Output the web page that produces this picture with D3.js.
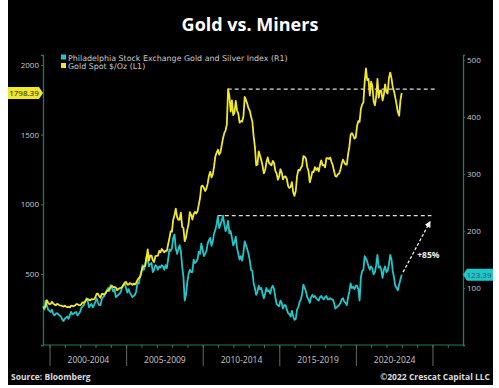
<!DOCTYPE html>
<html>
<head>
<meta charset="utf-8">
<script src="https://cdn.jsdelivr.net/npm/d3@7"></script>
<style>
  body { margin: 0; background: #fff; }
  svg { display: block; }
</style>
</head>
<body>
<div id="chart"></div>
<script>
// monthly values, first point = July 1999
var startYear = 1999, startMonth = 6;

var goldSpot = [
  256, 257, 265, 311, 293, 283,
  285, 300, 287, 280, 275, 285, 282, 274, 273, 270, 266, 272,
  266, 262, 263, 260, 272, 270, 268, 273, 283, 283, 276, 276,
  282, 296, 294, 302, 314, 321, 314, 310, 319, 317, 319, 333,
  357, 359, 340, 329, 356, 356, 351, 360, 379, 379, 389, 407,
  414, 405, 406, 404, 384, 392, 398, 400, 405, 420, 439, 442,
  424, 423, 434, 429, 422, 431, 424, 437, 456, 470, 476, 510,
  549, 555, 557, 610, 676, 596, 633, 632, 598, 585, 627, 629,
  631, 665, 655, 679, 667, 655, 665, 665, 712, 754, 806, 803,
  889, 922, 968, 909, 888, 889, 939, 839, 829, 735, 760, 816,
  858, 943, 924, 890, 928, 945, 934, 949, 996, 1043, 1127, 1134,
  1118, 1095, 1113, 1148, 1205, 1233, 1193, 1215, 1271, 1343, 1370, 1391,
  1356, 1372, 1424, 1473, 1510, 1528, 1572, 1826, 1780, 1665, 1745, 1640,
  1656, 1742, 1673, 1650, 1585, 1596, 1594, 1630, 1770, 1747, 1721, 1688,
  1671, 1627, 1593, 1487, 1414, 1280, 1286, 1380, 1349, 1316, 1275, 1221,
  1244, 1300, 1336, 1299, 1287, 1279, 1311, 1296, 1239, 1222, 1176, 1200,
  1251, 1227, 1179, 1198, 1199, 1181, 1131, 1117, 1125, 1159, 1086, 1060,
  1097, 1200, 1246, 1242, 1260, 1276, 1345, 1341, 1326, 1266, 1238, 1157,
  1192, 1234, 1231, 1266, 1246, 1260, 1236, 1283, 1315, 1280, 1282, 1265,
  1331, 1331, 1325, 1335, 1303, 1281, 1238, 1202, 1198, 1215, 1221, 1250,
  1291, 1320, 1300, 1286, 1284, 1359, 1413, 1500, 1510, 1495, 1471, 1479,
  1560, 1597, 1591, 1683, 1715, 1732, 1880, 1975, 1890, 1900, 1780, 1880,
  1850, 1740, 1710, 1770, 1900, 1765, 1815, 1815, 1745, 1785, 1860, 1805,
  1795, 1905, 1945, 1905, 1840, 1810, 1765, 1715, 1660, 1635, 1745, 1798.39
];

var xauIndex = [
  68, 62, 78, 70, 62, 60,
  58, 62, 55, 52, 55, 56, 54, 52, 50, 45, 42, 46,
  48, 50, 46, 52, 58, 54, 55, 57, 58, 52, 55, 58,
  65, 68, 70, 76, 82, 78, 66, 70, 72, 66, 70, 76,
  82, 74, 70, 70, 80, 84, 86, 92, 96, 100, 95, 105,
  100, 94, 98, 84, 86, 88, 90, 94, 102, 106, 108, 100,
  92, 98, 92, 88, 84, 86, 88, 94, 110, 108, 120, 128,
  140, 132, 140, 155, 150, 138, 142, 144, 128, 132, 140, 138,
  132, 138, 136, 140, 138, 132, 140, 135, 150, 168, 165, 170,
  188, 194, 170, 160, 168, 175, 165, 138, 120, 78, 88, 110,
  124, 132, 128, 128, 150, 144, 146, 150, 164, 160, 178, 168,
  156, 160, 165, 178, 184, 188, 174, 182, 196, 202, 212, 226,
  205, 212, 218, 227, 212, 200, 206, 218, 196, 200, 188, 175,
  180, 190, 170, 160, 150, 156, 148, 162, 182, 175, 168, 160,
  148, 132, 130, 108, 100, 88, 94, 104, 98, 100, 90, 82,
  90, 100, 94, 96, 90, 100, 104, 98, 84, 72, 70, 68,
  78, 74, 64, 70, 70, 62, 56, 54, 50, 60, 50, 44,
  46, 62, 66, 76, 80, 90, 106, 100, 94, 84, 80, 74,
  84, 88, 84, 86, 82, 80, 78, 84, 86, 82, 80, 84,
  86, 80, 80, 82, 80, 80, 74, 64, 66, 68, 70, 74,
  80, 82, 76, 74, 70, 84, 94, 108, 100, 102, 98, 104,
  104, 98, 78, 118, 130, 132, 156, 152, 146, 138, 132, 138,
  134, 124, 128, 140, 158, 136, 138, 132, 118, 132, 138, 128,
  130, 142, 158, 150, 130, 118, 104, 100, 96, 106, 115, 123.39
];

var periodLabels = ["2000-2004", "2005-2009", "2010-2014", "2015-2019", "2020-2024"];
var periodStarts = [2000, 2005, 2010, 2015, 2020, 2025];
var leftTicks = [500, 1000, 1500, 2000];
var rightTicks = [100, 200, 300, 400, 500];
var seriesNames = ["Philadelphia Stock Exchange Gold and Silver Index  (R1)", "Gold Spot $/Oz  (L1)"];

var goldPrior = 1826, xauPrior = 227, xauPriorDate = 2010.95, goldPriorDate = 2011.6;
var arrowFrom = [2023.05, 128], arrowTo = [2024.8, 216];

var W = 499, H = 388;
var teal = "#22c6c8", yellow = "#f1e82c", axisCol = "#1d7a66", txt = "#c9c9c9";

function dec(i) { return startYear + (startMonth + i) / 12 + 1 / 24; }

var svg = d3.select("#chart").append("svg").attr("width", W).attr("height", H);

svg.append("rect").attr("x", 8).attr("y", 0).attr("width", 485).attr("height", 385).attr("fill", "#000");

var x = d3.scaleLinear().domain([1999.54, 2026.96]).range([43, 463]);
var yL = d3.scaleLinear().domain([-10, 2071]).range([345, 55]);
var yR = d3.scaleLinear().domain([0, 509]).range([345, 55]);

// title
svg.append("text").attr("x", 250).attr("y", 31).attr("text-anchor", "middle")
  .attr("font-family", "Open Sans").attr("font-weight", "bold").attr("font-size", 18)
  .attr("fill", "#fff").text("Gold vs. Miners");

// axes
var leftAxis = svg.append("g").attr("transform", "translate(43,0)")
  .call(d3.axisLeft(yL).tickValues(leftTicks).tickFormat(d3.format("d")).tickSize(2).tickPadding(2));
var rightAxis = svg.append("g").attr("transform", "translate(463,0)")
  .call(d3.axisRight(yR).tickValues(rightTicks).tickFormat(d3.format("d")).tickSize(2).tickPadding(2));
[leftAxis, rightAxis].forEach(function(g) {
  g.select(".domain").attr("stroke", axisCol).attr("stroke-width", 1.3);
  g.selectAll(".tick line").attr("stroke", axisCol);
  g.selectAll("text").attr("fill", txt).attr("font-family", "Open Sans").attr("font-size", 8);
});

// bottom axis
var years = d3.range(2000, 2027);
var bottom = svg.append("g");
bottom.append("line").attr("x1", 43).attr("x2", 463).attr("y1", 345).attr("y2", 345)
  .attr("stroke", axisCol).attr("stroke-width", 1);
bottom.selectAll(".minor").data(years).enter().append("line")
  .attr("x1", d => x(d)).attr("x2", d => x(d)).attr("y1", 345).attr("y2", 348)
  .attr("stroke", "#777").attr("stroke-width", 0.8);
bottom.selectAll(".sep").data(periodStarts).enter().append("line")
  .attr("x1", d => x(d)).attr("x2", d => x(d)).attr("y1", 345).attr("y2", 366)
  .attr("stroke", "#666").attr("stroke-width", 1);
bottom.selectAll(".lab").data(periodLabels).enter().append("text")
  .attr("x", (d, i) => (x(periodStarts[i]) + x(periodStarts[i + 1])) / 2)
  .attr("y", 363).attr("text-anchor", "middle")
  .attr("font-family", "Open Sans").attr("font-size", 8.5).attr("fill", txt).text(d => d);

// reference dashed lines
svg.append("line").attr("x1", x(goldPriorDate)).attr("x2", x(2025.2))
  .attr("y1", yL(goldPrior)).attr("y2", yL(goldPrior))
  .attr("stroke", "#ddd").attr("stroke-width", 1.2).attr("stroke-dasharray", "4,3");
svg.append("line").attr("x1", x(xauPriorDate)).attr("x2", x(2024.9))
  .attr("y1", yR(xauPrior)).attr("y2", yR(xauPrior))
  .attr("stroke", "#ddd").attr("stroke-width", 1.2).attr("stroke-dasharray", "4,3");

// lines
var lineL = d3.line().x((d, i) => x(dec(i))).y(d => yL(d));
var lineR = d3.line().x((d, i) => x(dec(i))).y(d => yR(d));
svg.append("path").datum(xauIndex).attr("d", lineR).attr("fill", "none")
  .attr("stroke", teal).attr("stroke-width", 1.8).attr("stroke-linejoin", "round");
svg.append("path").datum(goldSpot).attr("d", lineL).attr("fill", "none")
  .attr("stroke", yellow).attr("stroke-width", 1.8).attr("stroke-linejoin", "round");

// arrow
var defs = svg.append("defs");
defs.append("marker").attr("id", "ah").attr("viewBox", "0 0 10 10").attr("refX", 8).attr("refY", 5)
  .attr("markerWidth", 5).attr("markerHeight", 5).attr("orient", "auto")
  .append("path").attr("d", "M0,0L10,5L0,10z").attr("fill", "#eee");
svg.append("line").attr("x1", x(arrowFrom[0])).attr("y1", yR(arrowFrom[1]))
  .attr("x2", x(arrowTo[0])).attr("y2", yR(arrowTo[1]))
  .attr("stroke", "#eee").attr("stroke-width", 1.3).attr("stroke-dasharray", "3,2")
  .attr("marker-end", "url(#ah)");
svg.append("text").attr("x", x(2024.7)).attr("y", yR(153)).attr("text-anchor", "middle")
  .attr("font-family", "Open Sans").attr("font-weight", "bold").attr("font-size", 8.5)
  .attr("fill", "#eee").text("+85%");

// legend
var legend = svg.append("g");
[teal, yellow].forEach(function(c, i) {
  legend.append("rect").attr("x", 61).attr("y", 54.5 + i * 8.5).attr("width", 5).attr("height", 5).attr("fill", c);
  legend.append("text").attr("x", 68).attr("y", 60.5 + i * 8.5)
    .attr("font-family", "DejaVu Sans").attr("font-size", 7.9).attr("fill", txt).text(seriesNames[i]);
});

// last value tags
function tag(side, val, y, bg, fg) {
  var g = svg.append("g");
  if (side === "left") {
    g.append("path").attr("d", `M8,${y - 6}H39L43,${y}L39,${y + 6}H8Z`).attr("fill", bg);
    g.append("text").attr("x", 24).attr("y", y + 3).attr("text-anchor", "middle")
      .attr("font-family", "Open Sans").attr("font-size", 8).attr("fill", fg).text(val);
  } else {
    g.append("path").attr("d", `M463,${y}L467,${y - 6}H493V${y + 6}H467Z`).attr("fill", bg);
    g.append("text").attr("x", 479).attr("y", y + 3).attr("text-anchor", "middle")
      .attr("font-family", "Open Sans").attr("font-size", 8).attr("fill", fg).text(val);
  }
}
tag("left", "1798.39", yL(1798.39), yellow, "#111");
tag("right", "123.39", yR(123.39), teal, "#0c5e66");

// footer
svg.append("text").attr("x", 11).attr("y", 380).attr("font-family", "Open Sans")
  .attr("font-weight", "bold").attr("font-size", 8.5).attr("fill", "#ddd").text("Source: Bloomberg");
svg.append("text").attr("x", 490).attr("y", 380).attr("text-anchor", "end").attr("font-family", "Open Sans")
  .attr("font-weight", "bold").attr("font-size", 8.5).attr("fill", "#ddd").text("©2022 Crescat Capital LLC");
</script>
</body>
</html>
